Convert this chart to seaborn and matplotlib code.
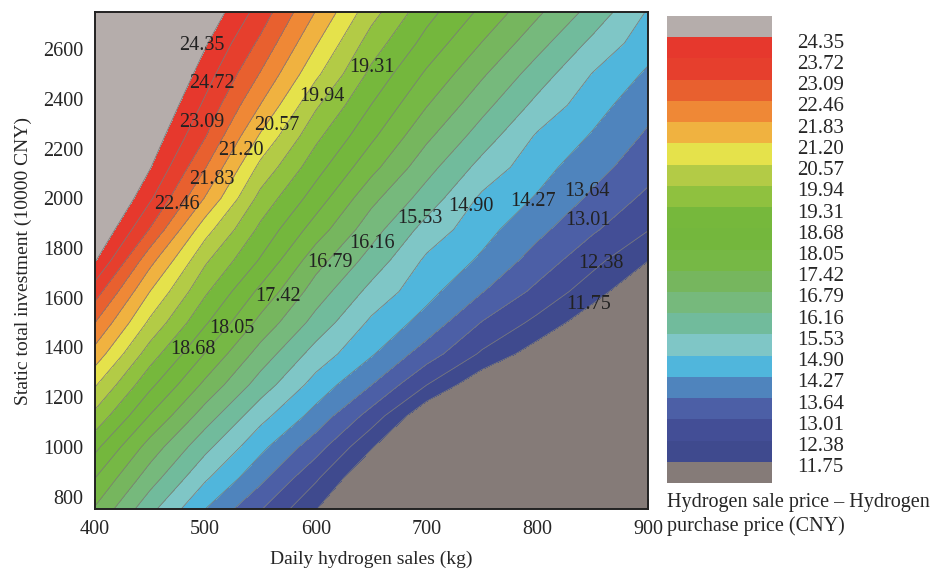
import numpy as np
import matplotlib
matplotlib.use("Agg")
import matplotlib.pyplot as plt
from matplotlib.colors import ListedColormap, BoundaryNorm
from matplotlib.ticker import MultipleLocator
from matplotlib.transforms import ScaledTranslation
import seaborn as sns

## grid: rows = investment, cols = daily sales
sales = [400, 450, 500, 550, 600, 650, 700, 750, 800, 850, 900]
invest = [750, 875, 1000, 1125, 1250, 1375, 1500, 1625, 1750,
          1875, 2000, 2125, 2250, 2375, 2500, 2625, 2750]
price_gap = [
    [17.37, 15.72, 14.27, 13.05, 11.78, 10.48, 9.20, 7.90, 6.20, 4.80, 3.50],
    [18.07, 16.46, 14.99, 13.81, 12.48, 11.03, 9.58, 8.10, 6.70, 5.20, 3.80],
    [18.86, 17.16, 15.71, 14.43, 13.29, 11.82, 10.37, 8.92, 7.50, 6.00, 4.60],
    [19.78, 18.02, 16.48, 15.11, 14.04, 12.76, 11.19, 9.60, 8.00, 6.40, 4.90],
    [20.65, 18.84, 17.27, 15.87, 14.65, 13.65, 12.39, 11.23, 10.06, 8.90, 7.70],
    [21.60, 19.63, 18.02, 16.53, 15.27, 14.34, 13.33, 12.29, 11.41, 10.54, 9.67],
    [22.48, 20.44, 18.76, 17.23, 15.93, 14.78, 14.03, 12.98, 12.21, 11.32, 10.43],
    [23.40, 21.20, 19.41, 17.89, 16.49, 15.33, 14.47, 13.67, 12.85, 12.03, 11.09],
    [24.42, 22.04, 20.04, 18.61, 17.04, 15.91, 14.78, 14.17, 13.37, 12.57, 11.76],
    [25.11, 23.05, 20.82, 19.16, 17.75, 16.42, 15.29, 14.49, 13.81, 13.10, 12.41],
    [25.66, 23.82, 21.78, 19.73, 18.38, 16.97, 15.87, 14.78, 14.21, 13.52, 12.86],
    [26.22, 24.39, 22.49, 20.39, 18.93, 17.62, 16.39, 15.31, 14.51, 13.87, 13.26],
    [26.47, 24.80, 23.12, 21.11, 19.46, 18.18, 16.92, 15.86, 14.82, 14.21, 13.54],
    [26.77, 25.18, 23.59, 21.81, 20.03, 18.67, 17.45, 16.37, 15.35, 14.52, 13.84],
    [27.05, 25.53, 24.02, 22.41, 20.70, 19.15, 17.95, 16.88, 15.85, 14.87, 14.17],
    [27.21, 25.81, 24.42, 22.95, 21.26, 19.64, 18.46, 17.40, 16.39, 15.38, 14.54],
    [28.00, 26.24, 24.85, 23.45, 21.80, 20.18, 18.90, 17.91, 16.90, 15.93, 14.84],
]

levels = [11.75, 12.38, 13.01, 13.64, 14.27, 14.90, 15.53, 16.16, 16.79, 17.42,
          18.05, 18.68, 19.31, 19.94, 20.57, 21.20, 21.83, 22.46, 23.09, 23.72, 24.35]
band_colors = ['#3f4a8e', '#434e96', '#4c5fa6', '#4f84bd', '#50b6dc', '#7fc6c6',
               '#71bb9c', '#76b97c', '#76b65e', '#76b845', '#74b73d', '#76b83c',
               '#8fc13f', '#b3cb46', '#e5e24b', '#f0b240', '#ef8836', '#e8602f',
               '#e63f2d', '#e6382d']
under_color = '#857b78'
over_color = '#b5adab'

## inline labels as printed on the original (typos kept)
label_text = ['24.35', '24.72', '23.09', '21.20', '21.83', '22.46', '20.57', '19.94',
              '19.31', '18.68', '18.05', '17.42', '16.79', '16.16', '15.53', '14.90',
              '14.27', '13.64', '13.01', '12.38', '11.75']
label_pos = [(497, 2617), (506, 2464), (497, 2307), (532, 2191), (506, 2078), (474, 1977),
             (565, 2295), (605, 2412), (651, 2525), (489, 1390), (524, 1478), (566, 1607),
             (613, 1744), (651, 1820), (694, 1921), (740, 1969), (796, 1989), (845, 2026),
             (846, 1913), (857, 1740), (846, 1571)]

sns.set_theme(style="ticks")
plt.rcParams['font.family'] = ['Liberation Serif', 'DejaVu Serif']

fig = plt.figure(figsize=(9.35, 5.7), dpi=100)
ax = fig.add_axes([0.1011, 0.1070, 0.5920, 0.8719])

cmap = ListedColormap(band_colors)
cmap.set_under(under_color)
cmap.set_over(over_color)
norm = BoundaryNorm(levels, cmap.N)

Z = np.array(price_gap)
cf = ax.contourf(sales, invest, Z, levels=levels, cmap=cmap, norm=norm, extend='both')
ax.contour(sales, invest, Z, levels=levels, colors='#7a7a7a', linewidths=0.55)

for s, (x, y) in zip(label_text, label_pos):
    ax.text(x, y, s, ha='center', va='center', fontsize=14.5, color='#222222')

ax.set_xlim(400, 900)
ax.set_ylim(750, 2750)
ax.xaxis.set_major_locator(MultipleLocator(100))
ax.xaxis.set_minor_locator(MultipleLocator(50))
ax.set_yticks([800, 1000, 1200, 1400, 1600, 1800, 2000, 2200, 2400, 2600])
ax.yaxis.set_minor_locator(MultipleLocator(100))
ax.tick_params(which='both', direction='in', top=False, right=False, labelsize=14.5, color='#111111')
ax.tick_params(which='major', length=7, width=1.3)
ax.tick_params(which='minor', length=4, width=1.1)
ax.tick_params(axis='y', pad=8)
ax.tick_params(axis='x', pad=8)
for sp in ax.spines.values():
    sp.set_linewidth(1.4)
    sp.set_color('#222222')
ax.set_xlabel('Daily hydrogen sales (kg)', fontsize=14, labelpad=8)
ax.set_ylabel('Static total investment (10000 CNY)', fontsize=14, labelpad=8)

cax = fig.add_axes([0.7134, 0.1526, 0.1123, 0.8193])
cb = fig.colorbar(cf, cax=cax, extend='both', extendrect=True, extendfrac=0.05, ticks=levels)
cb.outline.set_visible(False)
cb.ax.set_yticklabels(['%.2f' % v for v in levels])
cax.tick_params(length=0, pad=18, labelsize=15)
shift = ScaledTranslation(0, -0.035, fig.dpi_scale_trans)
for lab in cax.get_yticklabels():
    lab.set_transform(lab.get_transform() + shift)

fig.text(667 / 935, 1 - 493 / 570, 'Hydrogen sale price \u2013 Hydrogen\npurchase price (CNY)',
         ha='left', va='top', fontsize=14.5, linespacing=1.3)

fig.savefig('out.png', dpi=100)
